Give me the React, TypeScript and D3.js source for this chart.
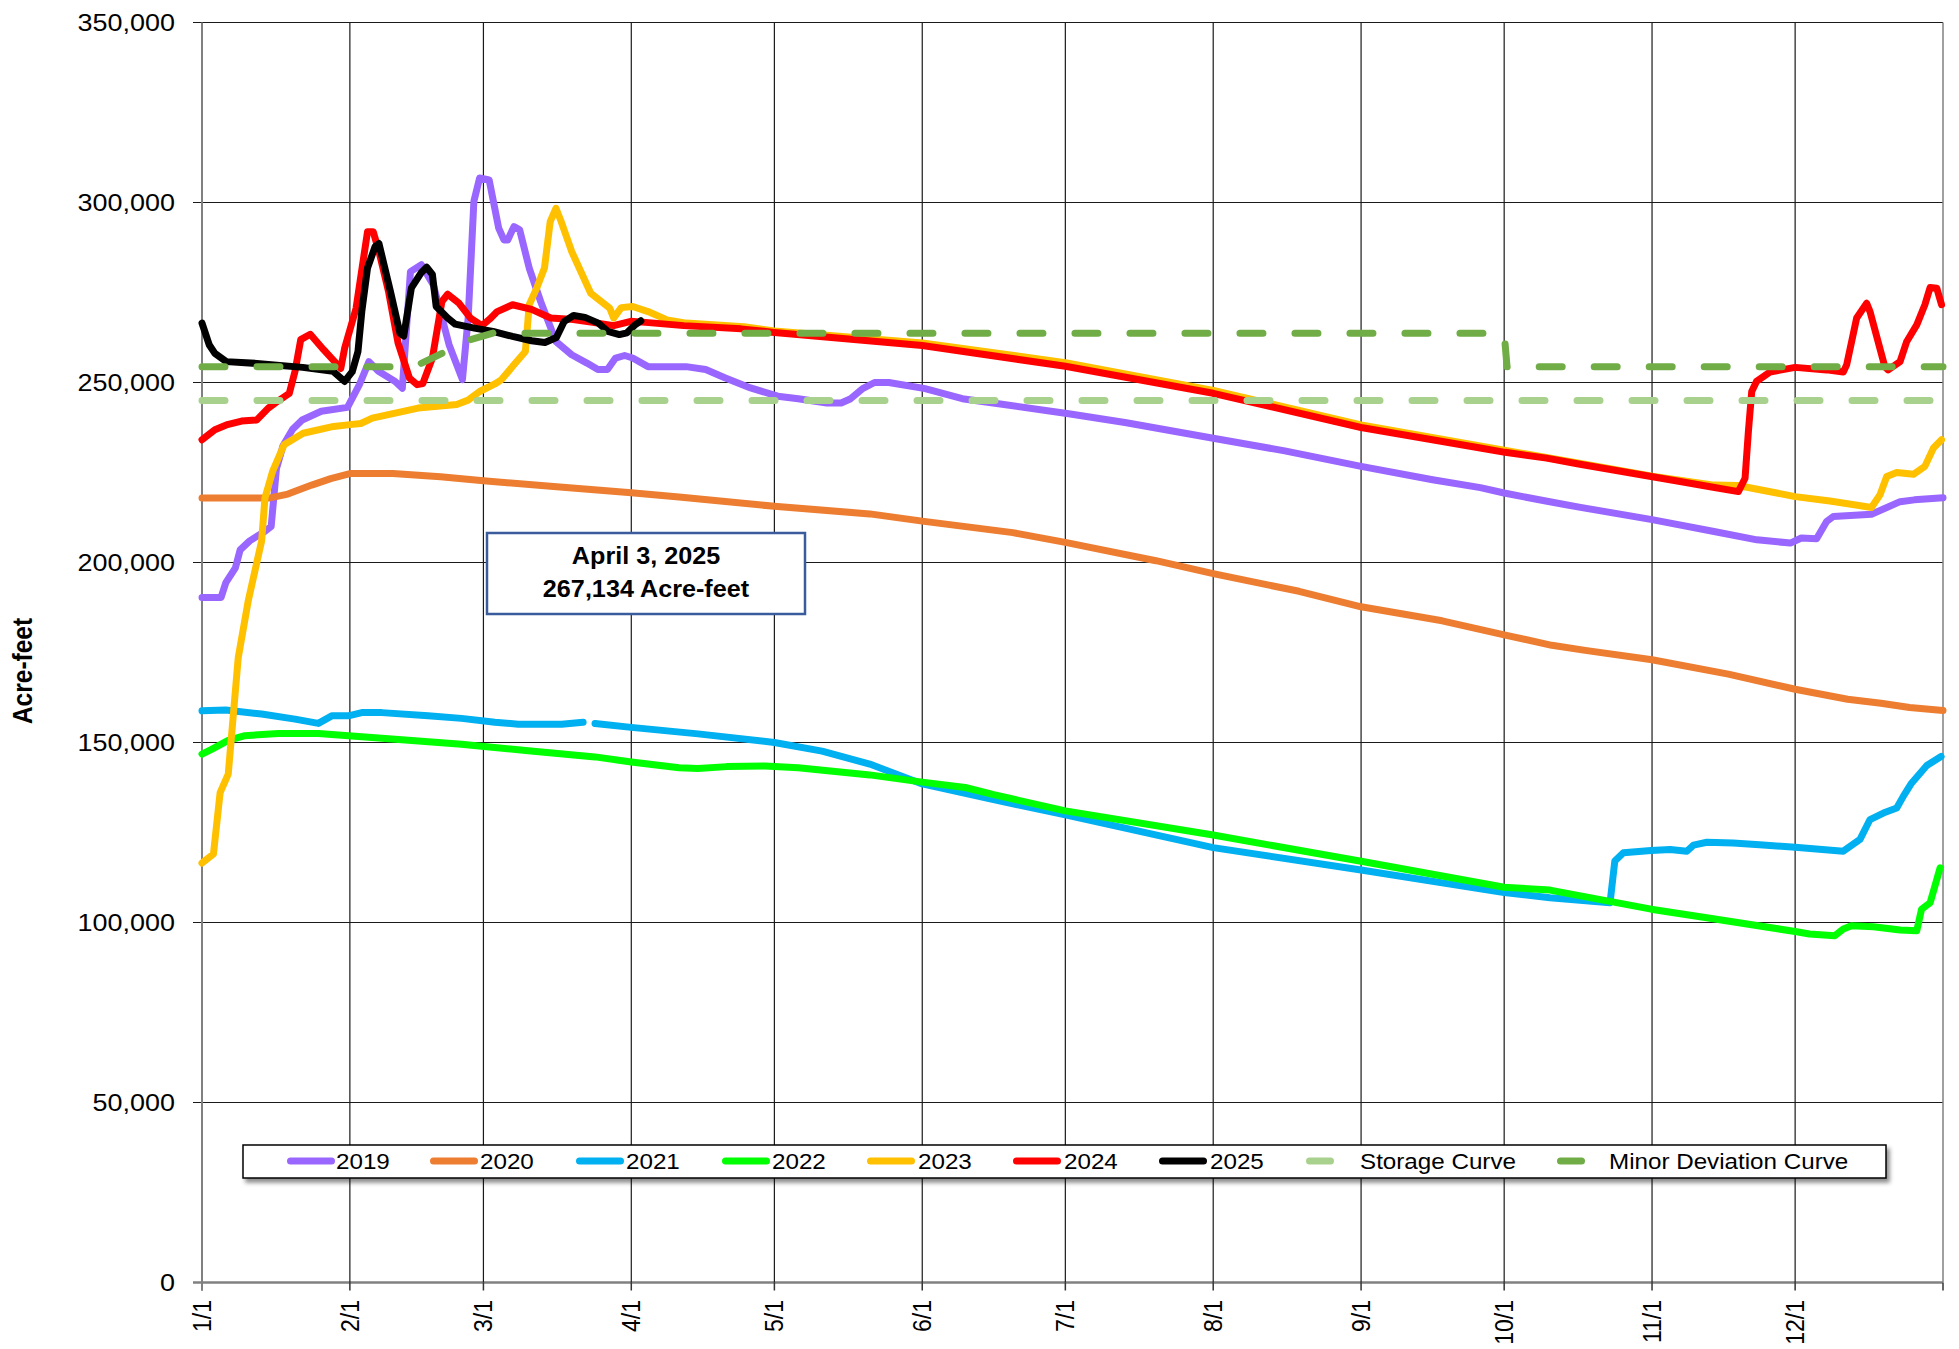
import React from "react";
import * as d3 from "d3";

type Pt = [number, number | null];

// day-of-year (0 = Jan 1) , acre-feet
const s2019: Pt[] = [[0,190300],[4,190300],[5,194400],[7,198500],[8,203500],[10,206000],[13,208500],[14.5,210000],[15.6,226000],[17,232500],[19,237000],[21,239600],[25,242000],[30.5,243100],[33,249400],[35,255800],[37,253100],[40.5,250300],[42,248400],[43.7,280800],[46,282700],[48.5,277100],[51.8,260500],[54.6,250800],[55.8,267900],[57,300300],[58.2,306800],[60.2,306300],[62.2,292900],[63.3,289600],[64.1,289600],[65.4,293300],[66.6,292400],[68.6,281800],[71,272500],[74.2,261400],[77.5,257700],[80.7,255400],[83,253600],[85,253600],[86.7,256800],[88.6,257500],[90.3,256800],[93.5,254400],[101.5,254400],[105.6,253600],[109.6,251300],[115,248500],[120.7,246200],[125,245500],[131,244300],[134,244300],[136,245500],[138.5,248300],[141,250000],[144,250000],[151.6,248300],[159.4,245500],[167,244100],[181.7,241300],[193.5,238900],[212,234500],[227,231000],[243,226700],[258,223000],[268,220800],[273,219300],[282,217000],[289,215300],[304,211900],[317,208600],[326,206300],[333,205400],[335.3,206800],[338.5,206600],[340.6,211400],[342,212800],[350,213400],[356,216900],[359,217400],[365,218000]];
const s2020: Pt[] = [[0,217900],[14,217900],[18,219000],[23,221500],[27,223300],[31,224700],[40,224700],[50,223800],[59,222700],[75,221000],[90,219400],[100,218200],[120,215600],[140,213500],[151,211500],[170,208300],[181,205600],[200,200500],[212,196900],[230,192000],[243,187700],[260,183800],[273,179900],[283,177000],[290,175600],[304,173000],[320,169000],[334,164800],[345,162000],[352,160900],[358,159700],[365,158900]];
const s2021: Pt[] = [[0,158800],[5,159000],[12.5,157900],[19.5,156500],[24.4,155300],[27.2,157400],[30.7,157400],[33.5,158300],[37.7,158300],[47.4,157400],[54.4,156700],[61.4,155600],[66.3,155100],[75.4,155100],[79.9,155600],[81,null],[82.4,155300],[90,154200],[104,152400],[120,150000],[130,147600],[140,144000],[151,138500],[165,134400],[181,129900],[212,120800],[243,114600],[273,108300],[282.6,106900],[295.2,105500],[296.2,117100],[298,119400],[303.8,120000],[307.8,120300],[311.3,119800],[312.7,121500],[315.5,122300],[321,122100],[327.3,121500],[334,120900],[344.1,119800],[347.6,123100],[349.7,128600],[352.5,130400],[355.3,131800],[356.7,135100],[358.4,138700],[361.6,143600],[364.6,146100]];
const s2022: Pt[] = [[0,146800],[2,148100],[5.5,150600],[9,151900],[16,152500],[24.4,152500],[30.7,151900],[40.5,150900],[54.4,149500],[59.7,148800],[68.4,147700],[82.4,146000],[90,144600],[100,143000],[104,142800],[110,143300],[118,143500],[125,143000],[140,141000],[151,139000],[160,137500],[166,135500],[181,131000],[212,124300],[243,117000],[273,109800],[282.6,109000],[303.8,103700],[317.5,100900],[334,97500],[337,96800],[342.3,96300],[344.1,98200],[345.8,99100],[350.4,98800],[356,97900],[359.5,97700],[360.5,103700],[362.3,105500],[364.4,115200]];
const s2023: Pt[] = [[0,116500],[2.4,119000],[3.8,136100],[5.5,141200],[7.6,173600],[9.7,189400],[12.5,206000],[13.2,217900],[14.8,225300],[17.2,232700],[21.2,235900],[27.6,237800],[31,238300],[33.3,238600],[35.7,240100],[45.3,242900],[53.4,243900],[55.8,245100],[58.2,247500],[61.4,249600],[62.8,250800],[65.4,254900],[67.8,258600],[68.6,271600],[70.2,276300],[71.8,281800],[73,294700],[74.2,298400],[75.3,294700],[77.5,286400],[81.5,274800],[85.5,270600],[86.3,267900],[87.9,270800],[90.3,271100],[93.5,269700],[97.5,267400],[101.5,266500],[113.6,265500],[120,264300],[151,261000],[181,255500],[212,247800],[243,238200],[273,231200],[289,227500],[304,224000],[317,221500],[322,221400],[334,218300],[341.3,217100],[350,215300],[351.8,218800],[353.2,223900],[355.3,225000],[358.8,224500],[361.2,226700],[363,231800],[364.7,234100]];
const s2024: Pt[] = [[0,234100],[2.7,236900],[5.1,238200],[8.3,239300],[11.5,239600],[13.9,242900],[16.3,245200],[18.3,247000],[19.5,253100],[20.7,261900],[22.7,263400],[25.5,259100],[29.1,253900],[29.9,259500],[32.3,270600],[34.7,291900],[35.9,291900],[37.1,286400],[39.1,275300],[41.1,261000],[43.5,251200],[45.1,249400],[46.3,249700],[48.3,256800],[50.3,272500],[51.5,274500],[53.9,272000],[56.3,267900],[58.7,265800],[60.3,267600],[61.9,269700],[65.1,271600],[69.1,270300],[73.1,267900],[77.1,267600],[81.9,266700],[86.3,265800],[89.9,267000],[93,266700],[101,265800],[113,264900],[120,263900],[151,260300],[181,254500],[212,247000],[243,237500],[268,231800],[273.2,230600],[281.9,229000],[288.9,227300],[295.9,225700],[303.8,223900],[309.9,222500],[316.8,220900],[322.1,219700],[323.5,223400],[324.2,236400],[324.9,247500],[325.9,250300],[328.7,252900],[334,254200],[340.6,253500],[344.1,252900],[344.8,254900],[346.9,267900],[349,272000],[349.7,269700],[352.8,254400],[353.5,253500],[356,255800],[357.4,261400],[359.5,266000],[361.2,271600],[362.3,276400],[363.7,276200],[364.7,271600]];
const s2025: Pt[] = [[0,266500],[1.5,260500],[2.7,258100],[5.1,255800],[11.5,255300],[21.1,254200],[27.5,253100],[29.9,250300],[31.5,253000],[32.7,258600],[33.5,269700],[34.7,281800],[36.3,287800],[37.1,288600],[39.5,275300],[41.5,263700],[42.3,262900],[43.9,276300],[45.9,280400],[47.1,282000],[48.3,280000],[49.1,271100],[51.5,267900],[53.1,266200],[57.1,265100],[61,264200],[65.1,262800],[69.1,261600],[71.9,261100],[74.3,262500],[75.9,266900],[77.9,268600],[80.3,268100],[83.1,266500],[85.1,264200],[87.5,263300],[89.1,263800],[90.7,265900],[92,267134]];
const storageCurve: Pt[] = [[0,245000],[365,245000]];
const minorDeviationCurve: Pt[] = [[0,254400],[44.5,254400],[56.5,262000],[61,263700],[273,263700],[273.6,254400],[365,254400]];

const seriesNames = ["2019","2020","2021","2022","2023","2024","2025","Storage Curve","Minor Deviation Curve"];
const seriesData = [s2019,s2020,s2021,s2022,s2023,s2024,s2025,storageCurve,minorDeviationCurve];
const seriesColors = ["#9966FF","#ED7D31","#00B0F0","#00FF00","#FFC000","#FF0000","#000000","#A9D18E","#70AD47"];
const seriesDashed = [false,false,false,false,false,false,false,true,true];

const yTicks = [0,50000,100000,150000,200000,250000,300000,350000];
const annotationLines = ["April 3, 2025","267,134 Acre-feet"];
const yAxisTitle = "Acre-feet";

const W = 1959, H = 1349;
const L = 202, R = 1943, T = 22.5, B = 1282.5;
const FONT = "'Liberation Sans', Arial, sans-serif";

export default function App() {
  const x = d3.scaleLinear().domain([0, 365]).range([L, R]);
  const y = d3.scaleLinear().domain([0, 350000]).range([B, T]);
  const start = new Date(2025, 0, 1);
  const months = d3.timeMonth.range(start, new Date(2026, 0, 2));
  const fmtM = d3.timeFormat("%-m/%-d");
  const fmtY = d3.format(",");
  const line = d3.line<Pt>()
    .defined(d => d[1] != null)
    .x(d => x(d[0]))
    .y(d => y(d[1] as number));

  // legend layout
  const legendX = [287, 430, 576, 722, 867, 1013, 1159, 1306, 1557];
  const legendSw = [48, 48, 48, 48, 48, 48, 48, 28, 28];
  const legendTx = [336, 480, 626, 772, 918, 1064, 1210, 1360, 1609];
  const ly = 1161;

  return (
    <svg width={W} height={H} style={{ position: "absolute", left: 0, top: 0, display: "block", background: "#fff" }} fontFamily={FONT}>
      <defs>
        <filter id="sh" x="-5%" y="-50%" width="110%" height="200%">
          <feDropShadow dx="3" dy="4" stdDeviation="2" floodColor="#000" floodOpacity="0.45" />
        </filter>
      </defs>
      <rect x={0} y={0} width={W} height={H} fill="#fff" />
      {yTicks.map(v => (
        <line key={"h" + v} x1={L - 9} x2={R} y1={y(v)} y2={y(v)} stroke={v === 0 ? "#808080" : "#1a1a1a"} strokeWidth={v === 0 ? 2.5 : 1.2} />
      ))}
      {months.map((m, i) => {
        const d = d3.timeDay.count(start, m);
        const px = x(d);
        return (
          <g key={"v" + i}>
            {i > 0 && i < 12 && <line x1={px} x2={px} y1={T} y2={B} stroke="#1a1a1a" strokeWidth={1.2} />}
            <line x1={px} x2={px} y1={B} y2={B + 8} stroke="#333" strokeWidth={1.5} />
            {i < 12 && (
              <text transform={`translate(${px},${1300}) scale(1.1,1) rotate(-90)`} textAnchor="end" dominantBaseline="central" fontSize={23} fill="#000">
                {fmtM(m)}
              </text>
            )}
          </g>
        );
      })}
      <line x1={L} x2={L} y1={T} y2={B + 8} stroke="#808080" strokeWidth={2} />
      <line x1={R} x2={R} y1={T} y2={B} stroke="#808080" strokeWidth={1.5} />
      {yTicks.map(v => (
        <text key={"yt" + v} transform={`translate(175,${y(v)}) scale(1.1,1)`} textAnchor="end" dominantBaseline="central" fontSize={24.5} fill="#000">
          {fmtY(v)}
        </text>
      ))}
      <text transform={`translate(23,671) scale(1.1,1) rotate(-90)`} textAnchor="middle" dominantBaseline="central" fontSize={24.5} fontWeight="bold" fill="#000">
        {yAxisTitle}
      </text>

      {seriesData.map((data, i) => (
        <path key={"s" + i} d={line(data) || ""} fill="none" stroke={seriesColors[i]} strokeWidth={7}
          strokeLinejoin="round" strokeLinecap="round" strokeDasharray={seriesDashed[i] ? "23 32" : undefined} />
      ))}

      <rect x={487} y={533} width={318} height={81} fill="#fff" stroke="#3A5C9C" strokeWidth={2.5} />
      {annotationLines.map((t, i) => (
        <text key={"a" + i} transform={`translate(646,${564 + i * 33}) scale(1.05,1)`} textAnchor="middle" fontSize={24} fontWeight="bold" fill="#000">{t}</text>
      ))}

      <rect x={243} y={1145} width={1643} height={33} fill="#fff" stroke="#000" strokeWidth={1.5} filter="url(#sh)" />
      {seriesNames.map((n, i) => (
        <g key={"l" + i}>
          <line x1={legendX[i] + 3.5} x2={legendX[i] + legendSw[i] - 3.5} y1={ly} y2={ly} stroke={seriesColors[i]} strokeWidth={7} strokeLinecap="round" />
          <text transform={`translate(${legendTx[i]},${ly}) scale(1.1,1)`} dominantBaseline="central" fontSize={22} fill="#000">{n}</text>
        </g>
      ))}
    </svg>
  );
}
